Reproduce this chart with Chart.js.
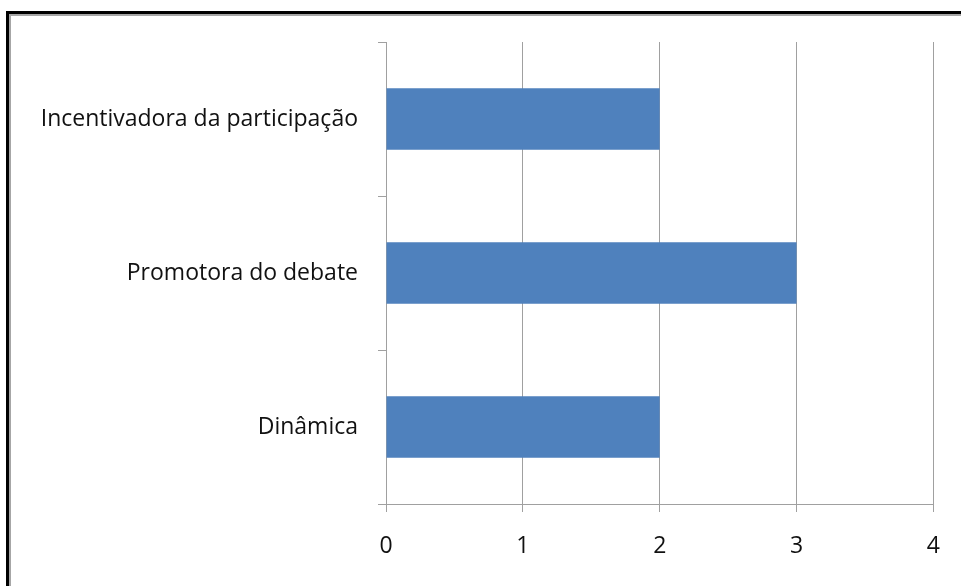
<!DOCTYPE html>
<html>
<head>
<meta charset="utf-8">
<script src="https://cdn.jsdelivr.net/npm/chart.js@4"></script>
<style>
  html, body { margin: 0; padding: 0; background: #fff; overflow: hidden; }
  #wrap { position: relative; width: 961px; height: 586px; }
  #frame {
    position: absolute; left: 6px; top: 11px; width: 2000px; height: 2000px;
    border-left: 3px solid #000; border-top: 3px solid #000;
    box-shadow: inset 2px 2px 0 #a6a6a6;
  }
  canvas { position: absolute; left: 0; top: 0; }
</style>
</head>
<body>
<div id="wrap">
  <div id="frame"></div>
  <canvas id="barChart" width="961" height="586"></canvas>
</div>
<script>
const categories = ['Incentivadora da participação', 'Promotora do debate', 'Dinâmica'];
const values = [2, 3, 2];
const xTicks = [0, 1, 2, 3, 4];

const labelFont = { family: '"Open Sans", sans-serif', size: 23 };

const ctx = document.getElementById('barChart').getContext('2d');
const barChart = new Chart(ctx, {
    type: 'bar',
    data: {
        labels: categories,
        datasets: [{
            data: values,
            backgroundColor: '#4F81BD',
            borderWidth: 0,
            barPercentage: 0.4,
            categoryPercentage: 1.0
        }]
    },
    options: {
        indexAxis: 'y',
        responsive: false,
        animation: false,
        layout: {
            padding: { left: 0, top: 42, right: 27, bottom: 0 }
        },
        scales: {
            x: {
                min: xTicks[0],
                max: xTicks[xTicks.length - 1],
                afterBuildTicks: function(scale) {
                    scale.ticks = xTicks.map(v => ({ value: v }));
                },
                afterFit: function(scale) { scale.height = 82; },
                ticks: {
                    color: '#111',
                    padding: 21,
                    font: labelFont
                },
                grid: {
                    color: '#a0a0a0',
                    lineWidth: 1,
                    tickLength: 8
                },
                border: { color: '#a0a0a0' }
            },
            y: {
                afterFit: function(scale) { scale.width = 386; },
                ticks: {
                    color: '#111',
                    padding: 20,
                    font: labelFont
                },
                grid: {
                    color: '#a0a0a0',
                    drawOnChartArea: false,
                    tickLength: 8,
                    offset: true
                },
                border: { color: '#a0a0a0' }
            }
        },
        plugins: {
            legend: { display: false },
            tooltip: { enabled: false }
        }
    }
});
</script>
</body>
</html>
